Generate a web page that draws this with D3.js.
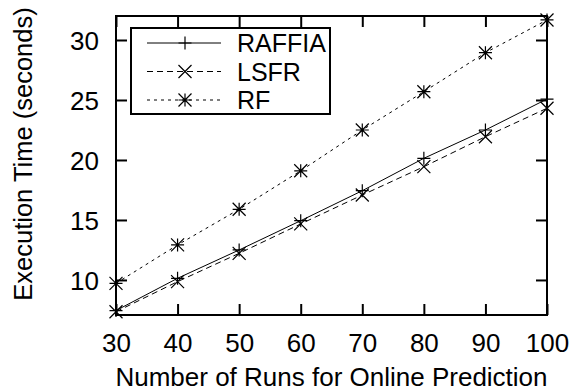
<!DOCTYPE html>
<html>
<head>
  <meta charset="UTF-8">
  <style>
    body { margin: 0; background: white; }
    svg { display: block; font-family: "Liberation Sans", Arial, sans-serif; }
    .axis path { display: none; }
    .axis line { stroke: black; stroke-width: 2; }
    .axis text { font-size: 26px; fill: black; }
  </style>
</head>
<body>
<svg></svg>
<script src="https://d3js.org/d3.v7.min.js"></script>
<script>

let width = 573, height = 392;

// data
let runs = [30, 40, 50, 60, 70, 80, 90, 100];
let raffia = [7.45, 10.14, 12.5, 14.94, 17.44, 20.14, 22.5, 25.08];
let lsfr = [7.35, 9.86, 12.22, 14.67, 17.08, 19.44, 21.94, 24.31];
let rf = [9.72, 12.92, 15.89, 19.1, 22.5, 25.69, 28.94, 31.67];
let yTicks = [10, 15, 20, 25, 30];

let series = [
  {name: "RAFFIA", values: raffia, dash: null, marker: "plus"},
  {name: "LSFR", values: lsfr, dash: "6,4", marker: "cross"},
  {name: "RF", values: rf, dash: "3,4", marker: "star"}
];

let margin = {left: 116, right: 26, top: 16, bottom: 77};

let svg = d3.select("svg")
    .attr("width", width)
    .attr("height", height);

let x = d3.scaleLinear()
    .domain([30, 100])
    .range([margin.left, width - margin.right]);

let y = d3.scaleLinear()
    .domain([7.08, 32])
    .range([height - margin.bottom, margin.top]);

let tick = 11;

// axes with inward ticks on all four sides
let xAxis = svg.append("g")
    .attr("class", "axis")
    .attr("transform", `translate(0,${y.range()[0]})`)
    .call(d3.axisBottom(x).tickValues(runs).tickSizeInner(-tick).tickSizeOuter(0));
xAxis.selectAll("text").attr("y", 37).attr("dy", 0);

svg.append("g")
    .attr("class", "axis")
    .attr("transform", `translate(0,${y.range()[1]})`)
    .call(d3.axisTop(x).tickValues(runs).tickSizeInner(-tick).tickSizeOuter(0))
    .selectAll("text").remove();

let yAxis = svg.append("g")
    .attr("class", "axis")
    .attr("transform", `translate(${x.range()[0]},0)`)
    .call(d3.axisLeft(y).tickValues(yTicks).tickSizeInner(-tick).tickSizeOuter(0));
yAxis.selectAll("text").attr("x", -17).attr("dy", "0.35em");

svg.append("g")
    .attr("class", "axis")
    .attr("transform", `translate(${x.range()[1]},0)`)
    .call(d3.axisRight(y).tickValues(yTicks).tickSizeInner(-tick).tickSizeOuter(0))
    .selectAll("text").remove();

// frame
svg.append("rect")
    .attr("x", x.range()[0])
    .attr("y", y.range()[1])
    .attr("width", x.range()[1] - x.range()[0])
    .attr("height", y.range()[0] - y.range()[1])
    .attr("fill", "none")
    .attr("stroke", "black")
    .attr("stroke-width", 2);

// axis titles
svg.append("text")
    .attr("x", (x.range()[0] + x.range()[1]) / 2)
    .attr("y", 386)
    .attr("text-anchor", "middle")
    .attr("font-size", 26)
    .text("Number of Runs for Online Prediction");

svg.append("text")
    .attr("transform", "translate(32,154) rotate(-90)")
    .attr("text-anchor", "middle")
    .attr("font-size", 25.5)
    .text("Execution Time (seconds)");

// point markers
function marker(g, type, cx, cy) {
  let s = 6.5;
  let paths = [];
  if (type == "plus" || type == "star")
    paths.push(`M${cx - s},${cy}H${cx + s}M${cx},${cy - s}V${cy + s}`);
  if (type == "cross" || type == "star")
    paths.push(`M${cx - s},${cy - s}L${cx + s},${cy + s}M${cx - s},${cy + s}L${cx + s},${cy - s}`);
  g.append("path")
      .attr("d", paths.join(""))
      .attr("stroke", "black")
      .attr("stroke-width", 1.2)
      .attr("fill", "none");
}

let line = d3.line()
    .x((d, i) => x(runs[i]))
    .y(d => y(d));

series.forEach(s => {
  let g = svg.append("g");
  g.append("path")
      .datum(s.values)
      .attr("d", line)
      .attr("fill", "none")
      .attr("stroke", "black")
      .attr("stroke-width", 1)
      .attr("stroke-dasharray", s.dash);
  s.values.forEach((v, i) => marker(g, s.marker, x(runs[i]), y(v)));
});

// legend
let legend = svg.append("g");
legend.append("rect")
    .attr("x", 131)
    .attr("y", 28)
    .attr("width", 199)
    .attr("height", 86)
    .attr("fill", "white")
    .attr("stroke", "black")
    .attr("stroke-width", 2);

series.forEach((s, i) => {
  let ly = 43 + i * 28.5;
  legend.append("line")
      .attr("x1", 147).attr("x2", 221)
      .attr("y1", ly).attr("y2", ly)
      .attr("stroke", "black")
      .attr("stroke-width", 1)
      .attr("stroke-dasharray", s.dash);
  marker(legend, s.marker, 185, ly);
  legend.append("text")
      .attr("x", 237)
      .attr("y", ly)
      .attr("dy", "0.36em")
      .attr("font-size", 25)
      .text(s.name);
});

</script>
</body>
</html>
